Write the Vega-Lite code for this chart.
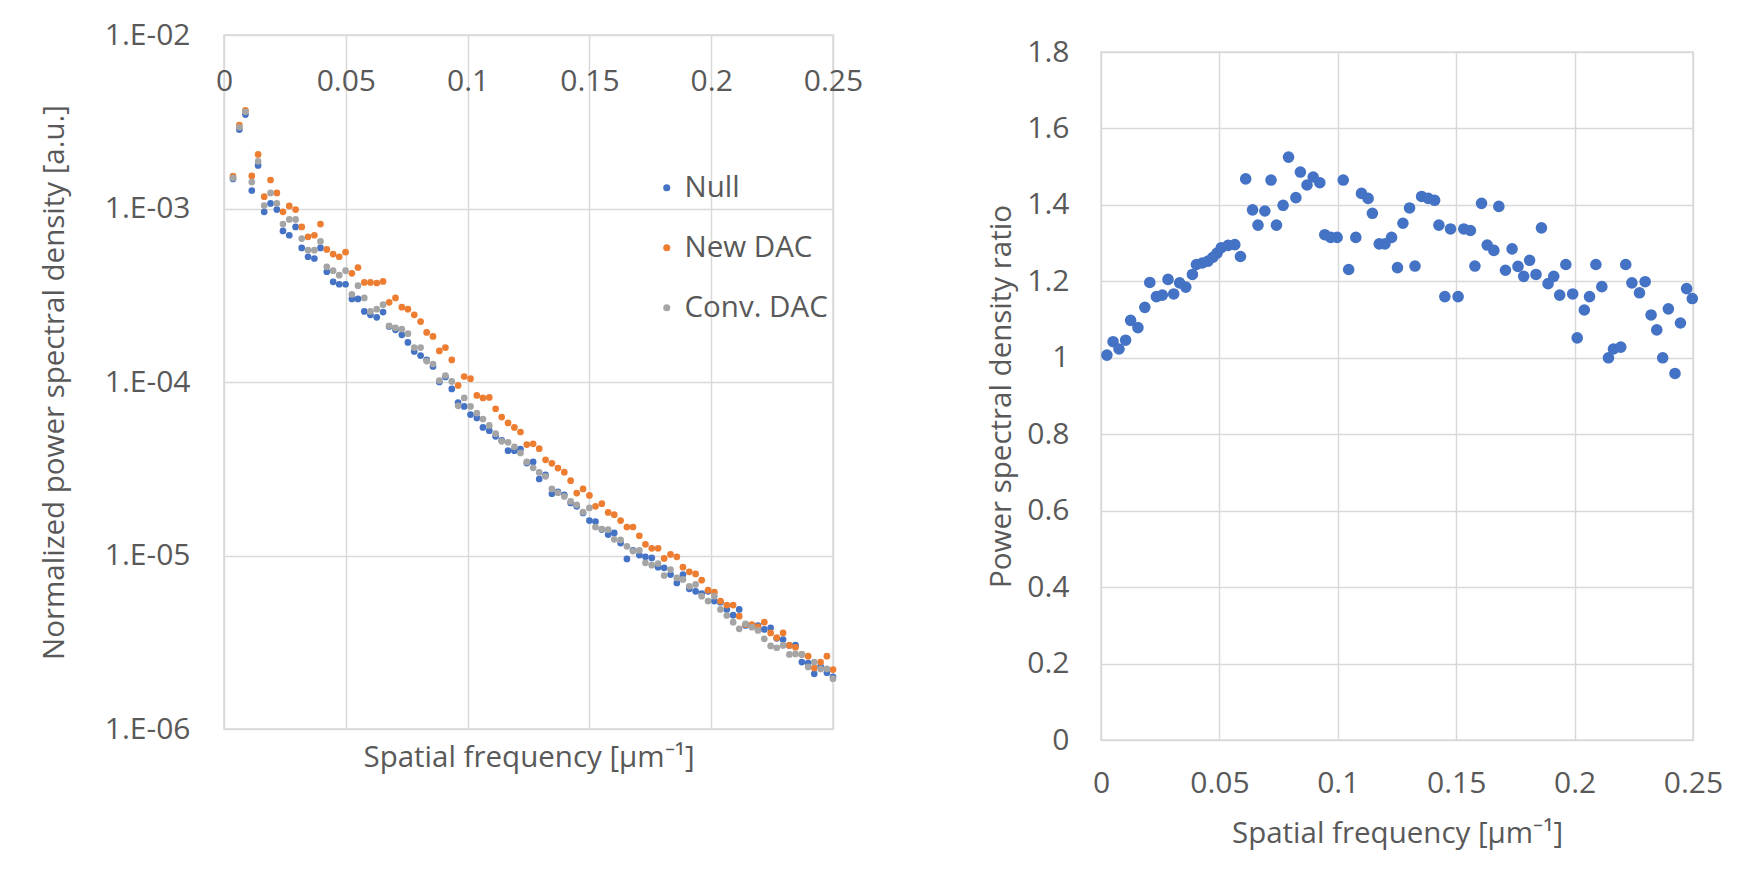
{
  "$schema": "https://vega.github.io/schema/vega-lite/v6.json",
  "background": "white",
  "padding": {"left": 38, "top": 19, "right": 10, "bottom": 24},
  "spacing": 122,
  "datasets": {
    "psd": [
      {"f":0.0037,"nul":1.48e-3,"newd":1.535e-3,"conv":1.50e-3},
      {"f":0.0063,"nul":2.85e-3,"newd":3.02e-3,"conv":2.94e-3},
      {"f":0.0088,"nul":3.48e-3,"newd":3.68e-3,"conv":3.61e-3},
      {"f":0.0114,"nul":1.27e-3,"newd":1.54e-3,"conv":1.42e-3},
      {"f":0.0140,"nul":1.77e-3,"newd":2.05e-3,"conv":1.87e-3},
      {"f":0.0165,"nul":9.57e-4,"newd":1.17e-3,"conv":1.04e-3},
      {"f":0.0191,"nul":1.07e-3,"newd":1.46e-3,"conv":1.23e-3},
      {"f":0.0217,"nul":9.86e-4,"newd":1.23e-3,"conv":1.07e-3},
      {"f":0.0242,"nul":7.43e-4,"newd":9.57e-4,"conv":8.13e-4},
      {"f":0.0268,"nul":7.01e-4,"newd":1.035e-3,"conv":8.65e-4},
      {"f":0.0294,"nul":7.83e-4,"newd":9.86e-4,"conv":8.65e-4},
      {"f":0.0319,"nul":5.93e-4,"newd":7.83e-4,"conv":6.71e-4},
      {"f":0.0345,"nul":5.27e-4,"newd":6.87e-4,"conv":5.75e-4},
      {"f":0.0371,"nul":5.15e-4,"newd":7.01e-4,"conv":5.75e-4},
      {"f":0.0396,"nul":5.93e-4,"newd":8.13e-4,"conv":6.46e-4},
      {"f":0.0422,"nul":4.32e-4,"newd":5.81e-4,"conv":4.61e-4},
      {"f":0.0448,"nul":3.78e-4,"newd":5.46e-4,"conv":4.38e-4},
      {"f":0.0473,"nul":3.66e-4,"newd":5.27e-4,"conv":4.13e-4},
      {"f":0.0499,"nul":3.66e-4,"newd":5.60e-4,"conv":4.38e-4},
      {"f":0.0525,"nul":3.01e-4,"newd":4.23e-4,"conv":3.20e-4},
      {"f":0.0550,"nul":3.01e-4,"newd":4.57e-4,"conv":3.59e-4},
      {"f":0.0576,"nul":2.55e-4,"newd":3.75e-4,"conv":3.05e-4},
      {"f":0.0601,"nul":2.44e-4,"newd":3.75e-4,"conv":2.55e-4},
      {"f":0.0627,"nul":2.36e-4,"newd":3.72e-4,"conv":2.63e-4},
      {"f":0.0653,"nul":2.53e-4,"newd":3.80e-4,"conv":2.79e-4},
      {"f":0.0678,"nul":2.09e-4,"newd":2.88e-4,"conv":2.11e-4},
      {"f":0.0704,"nul":2.00e-4,"newd":3.05e-4,"conv":2.05e-4},
      {"f":0.0730,"nul":1.87e-4,"newd":2.70e-4,"conv":2.02e-4},
      {"f":0.0755,"nul":1.69e-4,"newd":2.63e-4,"conv":1.90e-4},
      {"f":0.0781,"nul":1.50e-4,"newd":2.44e-4,"conv":1.58e-4},
      {"f":0.0807,"nul":1.42e-4,"newd":2.23e-4,"conv":1.58e-4},
      {"f":0.0832,"nul":1.34e-4,"newd":1.93e-4,"conv":1.32e-4},
      {"f":0.0858,"nul":1.23e-4,"newd":1.83e-4,"conv":1.27e-4},
      {"f":0.0884,"nul":1.00e-4,"newd":1.51e-4,"conv":1.02e-4},
      {"f":0.0909,"nul":1.07e-4,"newd":1.58e-4,"conv":1.09e-4},
      {"f":0.0935,"nul":9.12e-5,"newd":1.34e-4,"conv":1.007e-4},
      {"f":0.0961,"nul":7.62e-5,"newd":9.55e-5,"conv":7.29e-5},
      {"f":0.0986,"nul":7.23e-5,"newd":1.076e-4,"conv":8.09e-5},
      {"f":0.1012,"nul":6.49e-5,"newd":1.045e-4,"conv":7.23e-5},
      {"f":0.1038,"nul":6.21e-5,"newd":8.37e-5,"conv":6.62e-5},
      {"f":0.1063,"nul":5.47e-5,"newd":8.09e-5,"conv":6.12e-5},
      {"f":0.1089,"nul":5.24e-5,"newd":8.15e-5,"conv":5.62e-5},
      {"f":0.1115,"nul":4.86e-5,"newd":7.01e-5,"conv":5.04e-5},
      {"f":0.1140,"nul":4.61e-5,"newd":6.28e-5,"conv":4.55e-5},
      {"f":0.1166,"nul":4.02e-5,"newd":5.81e-5,"conv":4.49e-5},
      {"f":0.1192,"nul":4.02e-5,"newd":5.47e-5,"conv":4.23e-5},
      {"f":0.1217,"nul":4.11e-5,"newd":5.15e-5,"conv":3.90e-5},
      {"f":0.1243,"nul":3.41e-5,"newd":4.36e-5,"conv":3.46e-5},
      {"f":0.1269,"nul":3.46e-5,"newd":4.40e-5,"conv":3.20e-5},
      {"f":0.1294,"nul":2.76e-5,"newd":4.13e-5,"conv":3.01e-5},
      {"f":0.1320,"nul":2.92e-5,"newd":3.56e-5,"conv":2.86e-5},
      {"f":0.1346,"nul":2.27e-5,"newd":3.40e-5,"conv":2.42e-5},
      {"f":0.1371,"nul":2.33e-5,"newd":3.19e-5,"conv":2.30e-5},
      {"f":0.1397,"nul":2.24e-5,"newd":3.02e-5,"conv":2.19e-5},
      {"f":0.1423,"nul":2.01e-5,"newd":2.70e-5,"conv":2.05e-5},
      {"f":0.1448,"nul":1.92e-5,"newd":2.29e-5,"conv":1.96e-5},
      {"f":0.1474,"nul":1.76e-5,"newd":2.42e-5,"conv":1.78e-5},
      {"f":0.1500,"nul":1.59e-5,"newd":2.22e-5,"conv":1.88e-5},
      {"f":0.1525,"nul":1.57e-5,"newd":1.92e-5,"conv":1.46e-5},
      {"f":0.1551,"nul":1.41e-5,"newd":1.99e-5,"conv":1.42e-5},
      {"f":0.1577,"nul":1.32e-5,"newd":1.77e-5,"conv":1.41e-5},
      {"f":0.1602,"nul":1.35e-5,"newd":1.72e-5,"conv":1.24e-5},
      {"f":0.1628,"nul":1.18e-5,"newd":1.59e-5,"conv":1.23e-5},
      {"f":0.1654,"nul":9.55e-6,"newd":1.46e-5,"conv":1.13e-5},
      {"f":0.1679,"nul":1.07e-5,"newd":1.46e-5,"conv":1.06e-5},
      {"f":0.1705,"nul":1.005e-5,"newd":1.30e-5,"conv":1.07e-5},
      {"f":0.1730,"nul":9.82e-6,"newd":1.16e-5,"conv":9.08e-6},
      {"f":0.1756,"nul":9.68e-6,"newd":1.10e-5,"conv":8.79e-6},
      {"f":0.1782,"nul":8.57e-6,"newd":1.10e-5,"conv":8.99e-6},
      {"f":0.1807,"nul":8.49e-6,"newd":9.62e-6,"conv":7.67e-6},
      {"f":0.1833,"nul":7.76e-6,"newd":1.014e-5,"conv":8.30e-6},
      {"f":0.1859,"nul":6.95e-6,"newd":9.82e-6,"conv":7.43e-6},
      {"f":0.1884,"nul":7.76e-6,"newd":8.57e-6,"conv":7.28e-6},
      {"f":0.1910,"nul":6.43e-6,"newd":8.05e-6,"conv":6.65e-6},
      {"f":0.1936,"nul":6.22e-6,"newd":7.83e-6,"conv":6.81e-6},
      {"f":0.1961,"nul":6.04e-6,"newd":7.21e-6,"conv":5.83e-6},
      {"f":0.1987,"nul":6.22e-6,"newd":6.31e-6,"conv":5.46e-6},
      {"f":0.2013,"nul":5.46e-6,"newd":6.15e-6,"conv":5.83e-6},
      {"f":0.2038,"nul":5.38e-6,"newd":5.46e-6,"conv":4.89e-6},
      {"f":0.2064,"nul":4.89e-6,"newd":5.18e-6,"conv":4.51e-6},
      {"f":0.2090,"nul":4.53e-6,"newd":5.18e-6,"conv":4.13e-6},
      {"f":0.2115,"nul":4.89e-6,"newd":4.47e-6,"conv":3.78e-6},
      {"f":0.2141,"nul":3.95e-6,"newd":4.00e-6,"conv":4.04e-6},
      {"f":0.2167,"nul":3.92e-6,"newd":4.00e-6,"conv":3.86e-6},
      {"f":0.2192,"nul":3.95e-6,"newd":3.88e-6,"conv":3.70e-6},
      {"f":0.2218,"nul":3.75e-6,"newd":4.13e-6,"conv":3.31e-6},
      {"f":0.2244,"nul":3.83e-6,"newd":3.58e-6,"conv":3.01e-6},
      {"f":0.2269,"nul":3.33e-6,"newd":3.36e-6,"conv":2.94e-6},
      {"f":0.2295,"nul":3.28e-6,"newd":3.58e-6,"conv":3.03e-6},
      {"f":0.2321,"nul":3.03e-6,"newd":3.03e-6,"conv":2.69e-6},
      {"f":0.2346,"nul":3.04e-6,"newd":2.96e-6,"conv":2.71e-6},
      {"f":0.2372,"nul":2.43e-6,"newd":2.69e-6,"conv":2.69e-6},
      {"f":0.2398,"nul":2.40e-6,"newd":2.63e-6,"conv":2.28e-6},
      {"f":0.2423,"nul":2.08e-6,"newd":2.25e-6,"conv":2.43e-6},
      {"f":0.2449,"nul":2.30e-6,"newd":2.43e-6,"conv":2.22e-6},
      {"f":0.2475,"nul":2.11e-6,"newd":2.63e-6,"conv":2.22e-6},
      {"f":0.2500,"nul":2.00e-6,"newd":2.20e-6,"conv":1.95e-6}
    ],
    "ratio": [
      {"f":0.0025,"r":1.007},{"f":0.0051,"r":1.042},{"f":0.0076,"r":1.023},{"f":0.0104,"r":1.046},
      {"f":0.0125,"r":1.098},{"f":0.0156,"r":1.079},{"f":0.0185,"r":1.132},{"f":0.0206,"r":1.197},
      {"f":0.0234,"r":1.160},{"f":0.0259,"r":1.164},{"f":0.0283,"r":1.205},{"f":0.0307,"r":1.167},
      {"f":0.0332,"r":1.196},{"f":0.0358,"r":1.185},{"f":0.0386,"r":1.218},{"f":0.0403,"r":1.244},
      {"f":0.0428,"r":1.248},{"f":0.0452,"r":1.253},{"f":0.0473,"r":1.263},{"f":0.0490,"r":1.274},
      {"f":0.0508,"r":1.288},{"f":0.0537,"r":1.294},{"f":0.0565,"r":1.296},{"f":0.0589,"r":1.265},
      {"f":0.0611,"r":1.468},{"f":0.0640,"r":1.387},{"f":0.0663,"r":1.347},{"f":0.0692,"r":1.384},
      {"f":0.0718,"r":1.465},{"f":0.0741,"r":1.347},{"f":0.0769,"r":1.399},{"f":0.0792,"r":1.525},
      {"f":0.0823,"r":1.419},{"f":0.0842,"r":1.486},{"f":0.0870,"r":1.452},{"f":0.0896,"r":1.473},
      {"f":0.0924,"r":1.458},{"f":0.0945,"r":1.322},{"f":0.0970,"r":1.315},{"f":0.0997,"r":1.315},
      {"f":0.1023,"r":1.465},{"f":0.1046,"r":1.231},{"f":0.1076,"r":1.315},{"f":0.1100,"r":1.430},
      {"f":0.1128,"r":1.417},{"f":0.1146,"r":1.378},{"f":0.1175,"r":1.298},{"f":0.1199,"r":1.298},
      {"f":0.1227,"r":1.315},{"f":0.1252,"r":1.236},{"f":0.1275,"r":1.352},{"f":0.1303,"r":1.392},
      {"f":0.1326,"r":1.240},{"f":0.1354,"r":1.422},{"f":0.1382,"r":1.417},{"f":0.1409,"r":1.412},
      {"f":0.1427,"r":1.347},{"f":0.1452,"r":1.160},{"f":0.1476,"r":1.337},{"f":0.1508,"r":1.160},
      {"f":0.1532,"r":1.337},{"f":0.1560,"r":1.333},{"f":0.1579,"r":1.240},{"f":0.1607,"r":1.404},
      {"f":0.1631,"r":1.295},{"f":0.1659,"r":1.281},{"f":0.1680,"r":1.396},{"f":0.1708,"r":1.229},
      {"f":0.1736,"r":1.285},{"f":0.1761,"r":1.239},{"f":0.1785,"r":1.213},{"f":0.1810,"r":1.255},
      {"f":0.1837,"r":1.218},{"f":0.1860,"r":1.340},{"f":0.1888,"r":1.194},{"f":0.1912,"r":1.213},
      {"f":0.1937,"r":1.164},{"f":0.1963,"r":1.244},{"f":0.1992,"r":1.167},{"f":0.2011,"r":1.052},
      {"f":0.2041,"r":1.125},{"f":0.2063,"r":1.160},{"f":0.2090,"r":1.244},{"f":0.2115,"r":1.186},
      {"f":0.2143,"r":1.000},{"f":0.2164,"r":1.023},{"f":0.2195,"r":1.028},{"f":0.2216,"r":1.244},
      {"f":0.2242,"r":1.196},{"f":0.2274,"r":1.170},{"f":0.2298,"r":1.199},{"f":0.2323,"r":1.112},
      {"f":0.2347,"r":1.073},{"f":0.2372,"r":1.000},{"f":0.2396,"r":1.128},{"f":0.2424,"r":0.959},
      {"f":0.2447,"r":1.091},{"f":0.2473,"r":1.181},{"f":0.2497,"r":1.155}
    ]
  },
  "hconcat": [
    {
      "width": 609,
      "height": 694,
      "data": {"name": "psd"},
      "encoding": {
        "x": {
          "field": "f", "type": "quantitative",
          "scale": {"domain": [0, 0.25], "nice": false, "zero": false},
          "axis": {
            "orient": "top",
            "values": [0, 0.05, 0.1, 0.15, 0.2, 0.25],
            "format": "~g",
            "labelFlush": false,
            "labelBaseline": "top",
            "labelPadding": -31,
            "title": "Spatial frequency [µm⁻¹]",
            "titleY": 722,
            "titleBaseline": "middle"
          }
        }
      },
      "layer": [
        {
          "mark": {"type": "point", "filled": true, "size": 45, "opacity": 1},
          "encoding": {
            "y": {
              "field": "nul", "type": "quantitative",
              "scale": {"type": "log", "domain": [1e-6, 1e-2], "nice": false},
              "axis": {
                "values": [1e-6, 1e-5, 1e-4, 1e-3, 1e-2],
                "labelExpr": "'1.E-0' + round(-log(datum.value)/LN10)",
                "labelPadding": 34,
                "title": "Normalized power spectral density [a.u.]",
                "titlePadding": 35
              }
            },
            "color": {
              "datum": "Null",
              "scale": {"domain": ["Null", "New DAC", "Conv. DAC"], "range": ["#4472C4", "#ED7D31", "#A5A5A5"]},
              "legend": {
                "title": null,
                "orient": "none",
                "legendX": 428,
                "legendY": 138,
                "symbolType": "circle",
                "symbolSize": 50,
                "labelFontSize": 29.5,
                "labelColor": "#595959",
                "labelFont": "Open Sans",
                "labelOffset": 3,
                "rowPadding": 29,
                "padding": 0
              }
            }
          }
        },
        {
          "mark": {"type": "point", "filled": true, "size": 45, "opacity": 1},
          "encoding": {
            "y": {"field": "newd", "type": "quantitative"},
            "color": {"datum": "New DAC"}
          }
        },
        {
          "mark": {"type": "point", "filled": true, "size": 45, "opacity": 1},
          "encoding": {
            "y": {"field": "conv", "type": "quantitative"},
            "color": {"datum": "Conv. DAC"}
          }
        }
      ]
    },
    {
      "spacing": 0,
      "vconcat": [
        {
          "width": 592,
          "height": 1,
          "view": {"stroke": null},
          "data": {"values": []},
          "mark": "point"
        },
        {
          "width": 592,
          "height": 688,
          "data": {"name": "ratio"},
          "mark": {"type": "point", "filled": true, "size": 135, "opacity": 1, "color": "#4472C4"},
          "encoding": {
            "x": {
              "field": "f", "type": "quantitative",
              "scale": {"domain": [0, 0.25], "nice": false, "zero": false},
              "axis": {
                "values": [0, 0.05, 0.1, 0.15, 0.2, 0.25],
                "format": "~g",
                "labelFlush": false,
                "labelPadding": 28,
                "title": "Spatial frequency [µm⁻¹]",
                "titlePadding": 21
              }
            },
            "y": {
              "field": "r", "type": "quantitative",
              "scale": {"domain": [0, 1.8], "nice": false},
              "axis": {
                "values": [0, 0.2, 0.4, 0.6, 0.8, 1, 1.2, 1.4, 1.6, 1.8],
                "format": "~g",
                "labelPadding": 32,
                "title": "Power spectral density ratio",
                "titlePadding": 10
              }
            }
          }
        }
      ]
    }
  ],
  "config": {
    "font": "Open Sans",
    "view": {"stroke": "#d9d9d9", "strokeWidth": 1.5},
    "axis": {
      "labelFont": "Open Sans",
      "labelFontSize": 30,
      "labelColor": "#595959",
      "titleFont": "Open Sans",
      "titleFontSize": 29.5,
      "titleFontWeight": "normal",
      "titleColor": "#595959",
      "gridColor": "#d9d9d9",
      "gridWidth": 1.5,
      "domain": false,
      "ticks": false,
      "tickSize": 0
    }
  }
}
